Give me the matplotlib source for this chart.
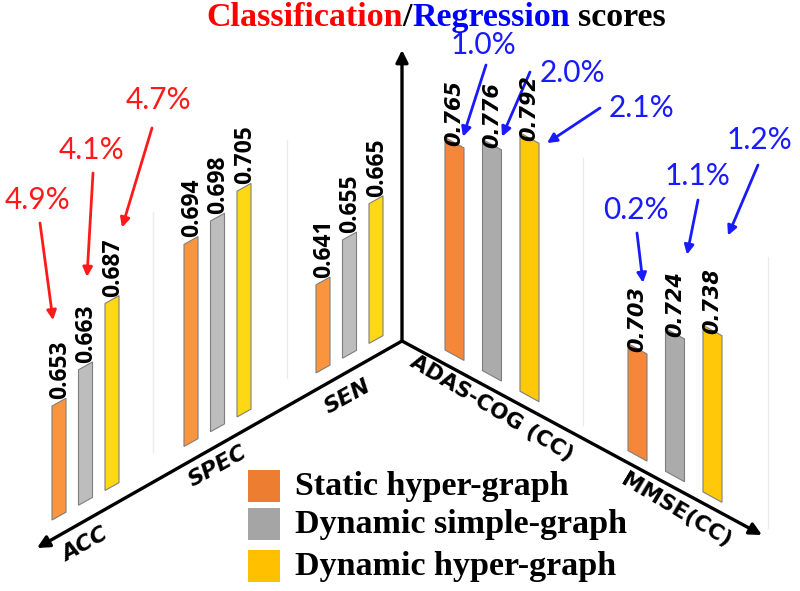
import numpy as np
import matplotlib.pyplot as plt
from matplotlib.patches import Polygon, Rectangle

plt.rcParams['font.family'] = 'DejaVu Sans'

methods = ['Static hyper-graph', 'Dynamic simple-graph', 'Dynamic hyper-graph']
cls_metrics = ['ACC', 'SPEC', 'SEN']
reg_metrics = ['ADAS-COG (CC)', 'MMSE(CC)']

# classification scores (ACC, SPEC, SEN)
static_cls = [0.653, 0.694, 0.641]
simple_cls = [0.663, 0.698, 0.655]
hyper_cls = [0.687, 0.705, 0.665]
# regression scores (ADAS-COG, MMSE)
static_reg = [0.765, 0.703]
simple_reg = [0.776, 0.724]
hyper_reg = [0.792, 0.738]

# improvement annotations
acc_gain = ['4.9%', '4.1%', '4.7%']
adas_gain = ['1.0%', '2.0%', '2.1%']
mmse_gain = ['0.2%', '1.1%', '1.2%']

cls_colors = ['#F9943F', '#BDBDBD', '#FFD815']
reg_colors = ['#F5863A', '#ABABAB', '#FFC90A']
legend_colors = ['#ED7D31', '#A5A5A5', '#FFC000']

fig = plt.figure(figsize=(8, 5.91), dpi=100)
ax = fig.add_axes([0, 0, 1, 1])
ax.set_xlim(0, 800)
ax.set_ylim(591, 0)
ax.axis('off')
renderer = fig.canvas.get_renderer()

# 疑似3Dの配置 (ピクセル単位)
cls_base, cls_scale = 0.60, 2150
reg_base, reg_scale = 0.64, 1700
cls_slope, reg_slope = -0.557, 0.55
cls_w, reg_w = 14, 19


def draw_bar(x0, y0, w, slope, h, color):
    pts = [(x0, y0), (x0 + w, y0 + slope * w), (x0 + w, y0 + slope * w - h), (x0, y0 - h)]
    ax.add_patch(Polygon(pts, closed=True, fc=color, ec='#7f7f7f', lw=0.8, zorder=3))
    return x0 + w / 2, y0 + slope * w / 2 - h


# faint back walls
for x, y1, y2 in [(153, 212, 452), (287, 140, 378), (583, 158, 425), (768, 257, 528)]:
    ax.plot([x, x], [y1, y2], color='#ececec', lw=1, zorder=1)

# classification bars
cls_tops = []
for k, vals in enumerate([static_cls, simple_cls, hyper_cls]):
    row = []
    for g, v in enumerate(vals):
        x0 = 52 + 132 * g + 26.5 * k
        y0 = 520 + cls_slope * (x0 - 52)
        cx, ty = draw_bar(x0, y0, cls_w, cls_slope, (v - cls_base) * cls_scale, cls_colors[k])
        ax.text(cx + 1, ty - 3, f'{v:.3f}', rotation=90, ha='center', va='bottom',
                fontsize=16.5, family='Open Sans', fontweight='bold', zorder=4)
        row.append((cx, ty))
    cls_tops.append(row)

# regression bars
reg_tops = []
for k, vals in enumerate([static_reg, simple_reg, hyper_reg]):
    row = []
    for g, v in enumerate(vals):
        x0 = 445 + 183 * g + 37.5 * k
        y0 = 350 + reg_slope * (x0 - 445)
        cx, ty = draw_bar(x0, y0, reg_w, reg_slope, (v - reg_base) * reg_scale, reg_colors[k])
        ax.text(cx, ty + 3, f'{v:.3f}', rotation=90, ha='center', va='bottom',
                fontsize=15, fontweight='bold', fontstyle='italic', zorder=4)
        row.append((cx, ty))
    reg_tops.append(row)

# axes arrows
arrow_kw = dict(arrowstyle='-|>', lw=2.4, color='black', mutation_scale=18, shrinkA=0, shrinkB=0)
for tip in [(402, 50), (37, 548), (762, 535)]:
    ax.annotate('', xy=tip, xytext=(402, 341), arrowprops=arrow_kw, zorder=5)

# axis category labels
ax.text(85, 545, cls_metrics[0], rotation=29, ha='center', va='center', fontsize=16,
        fontweight='bold', fontstyle='italic', rotation_mode='anchor')
ax.text(218, 466, cls_metrics[1], rotation=29, ha='center', va='center', fontsize=16,
        fontweight='bold', fontstyle='italic', rotation_mode='anchor')
ax.text(348, 397, cls_metrics[2], rotation=29, ha='center', va='center', fontsize=16,
        fontweight='bold', fontstyle='italic', rotation_mode='anchor')
ax.text(492, 408, reg_metrics[0], rotation=-31, ha='center', va='center', fontsize=15.5,
        fontweight='bold', rotation_mode='anchor')
ax.text(676, 510, reg_metrics[1], rotation=-31, ha='center', va='center', fontsize=15.5,
        fontweight='bold', rotation_mode='anchor')

# improvement arrows: text centre, arrow start, tip offset from bar top
acc_layout = [((38, 200), (40, 223), (-6, 82)),
              ((92, 150), (93, 173), (1.5, 89)),
              ((158, 100), (152, 128), (10, 72))]
adas_layout = [((483, 45), (486, 65), (8.5, 6)),
               ((572, 73), (530, 72), (10, 8)),
               ((641, 108), (600, 108), (17.5, -5))]
mmse_layout = [((636, 210), (637, 233), (5.5, 66)),
               ((697, 176), (698, 200), (12, 79)),
               ((759, 140), (758, 165), (15.5, 95))]

for labels, layout, col, g, tops in [(acc_gain, acc_layout, '#FF1A1A', 0, cls_tops),
                                    (adas_gain, adas_layout, '#1A1AFF', 0, reg_tops),
                                    (mmse_gain, mmse_layout, '#1A1AFF', 1, reg_tops)]:
    for k, (lab, (tpos, start, off)) in enumerate(zip(labels, layout)):
        cx, ty = tops[k][g]
        ax.text(tpos[0], tpos[1], lab, color=col, fontsize=21.5, family='Lato',
                ha='center', va='center')
        ax.annotate('', xy=(cx + off[0], ty - off[1]), xytext=start,
                    arrowprops=dict(arrowstyle='-|>', lw=2, color=col,
                                    mutation_scale=14, shrinkA=0, shrinkB=0))

# title in three colours
x = 206
for txt, col in [('Classification', '#FF0000'), ('/', 'black'),
                 ('Regression', '#0000FF'), ('scores', 'black')]:
    if txt == 'scores':
        x += 8
    t = ax.text(x, 26, txt, color=col, fontsize=24.5, fontweight='bold',
                family='Liberation Serif', ha='left', va='baseline')
    x += t.get_window_extent(renderer).width

# legend
for i, (name, col) in enumerate(zip(methods, legend_colors)):
    yc = [486, 524, 566][i]
    ax.add_patch(Rectangle((248, yc - 16), 32, 32, fc=col, ec='none', zorder=3))
    ax.text(295, yc, name, fontsize=24.5, fontweight='bold', family='Liberation Serif',
            ha='left', va='center')

fig.savefig('out.png', dpi=100)
